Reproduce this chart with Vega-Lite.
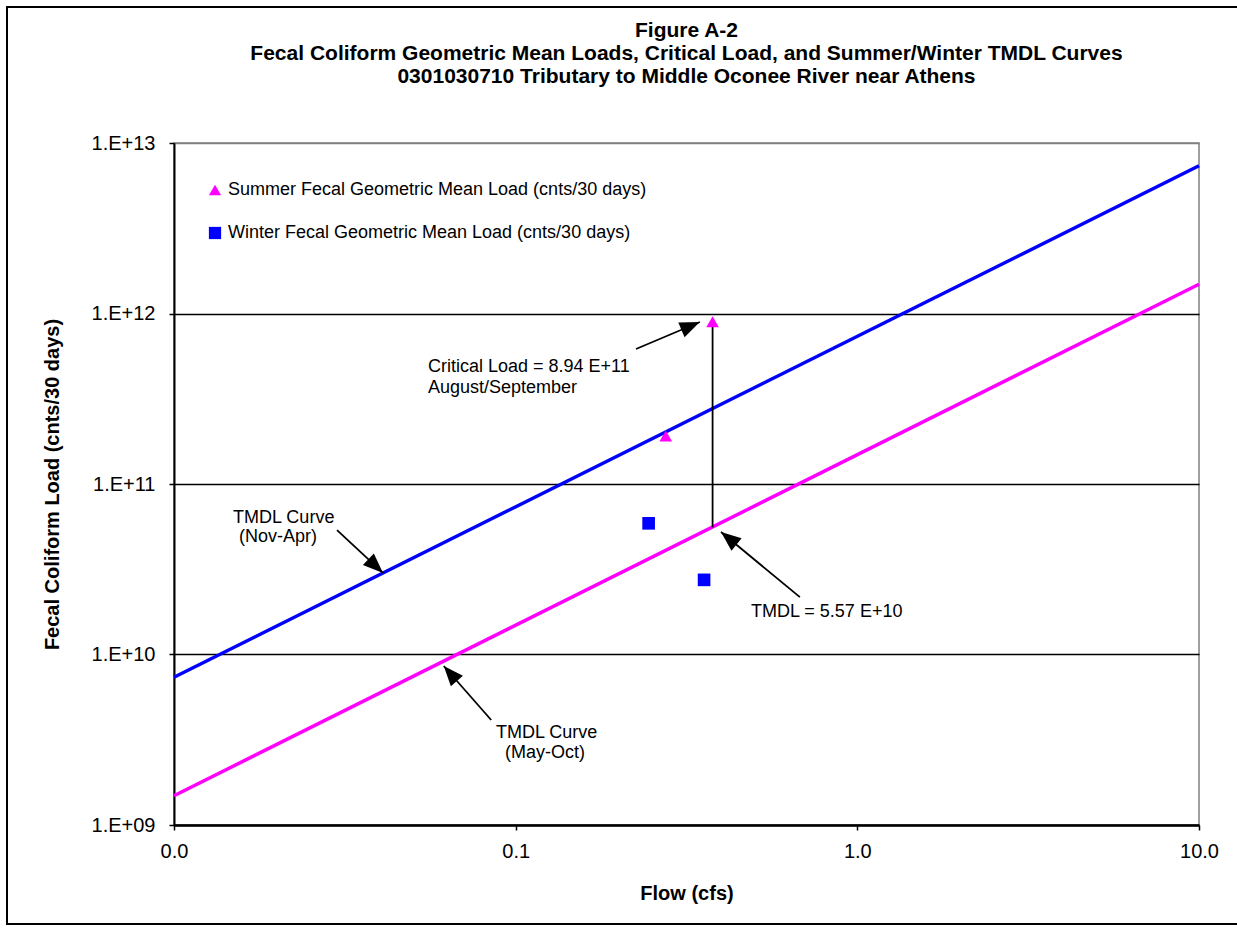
{
  "$schema": "https://vega.github.io/schema/vega-lite/v6.json",
  "width": 1025,
  "height": 682,
  "autosize": {"type": "none"},
  "padding": {"left": 174, "top": 143, "right": 38, "bottom": 105},
  "background": "white",
  "title": {
    "text": ["Figure A-2", "Fecal Coliform Geometric Mean Loads, Critical Load, and Summer/Winter TMDL Curves", "0301030710  Tributary to Middle Oconee River near Athens"],
    "anchor": "middle",
    "font": "Liberation Sans",
    "fontSize": 21,
    "fontWeight": "bold",
    "lineHeight": 23,
    "baseline": "top",
    "offset": -81,
    "color": "black"
  },
  "config": {
    "view": {"stroke": "#808080", "strokeWidth": 1.5},
    "font": "Liberation Sans",
    "axis": {"labelColor": "black", "titleColor": "black", "labelFont": "Liberation Sans", "titleFont": "Liberation Sans"}
  },
  "datasets": {
    "curves": [
      {"flow": 0.01, "load": 7.35e9, "curve": "Nov-Apr"},
      {"flow": 10, "load": 7.35e12, "curve": "Nov-Apr"},
      {"flow": 0.01, "load": 1.485e9, "curve": "May-Oct"},
      {"flow": 10, "load": 1.485e12, "curve": "May-Oct"}
    ],
    "points": [
      {"flow": 0.377, "load": 8.94e11, "series": "Summer Fecal Geometric Mean Load (cnts/30 days)"},
      {"flow": 0.275, "load": 1.91e11, "series": "Summer Fecal Geometric Mean Load (cnts/30 days)"},
      {"flow": 0.245, "load": 5.88e10, "series": "Winter Fecal Geometric Mean Load (cnts/30 days)"},
      {"flow": 0.356, "load": 2.74e10, "series": "Winter Fecal Geometric Mean Load (cnts/30 days)"}
    ],
    "critical": [
      {"flow": 0.377, "load": 8.94e11, "load2": 5.57e10}
    ],
    "arrows": [
      {"id": "critical", "flow": 0.225, "load": 6.19e11, "flow2": 0.346, "load2": 8.92e11},
      {"id": "novapr", "flow": 0.03, "load": 5.37e10, "flow2": 0.0409, "load2": 3.01e10},
      {"id": "mayoct", "flow": 0.0848, "load": 4.13e9, "flow2": 0.0616, "load2": 8.56e9},
      {"id": "tmdl", "flow": 0.679, "load": 2.17e10, "flow2": 0.399, "load2": 5.23e10}
    ],
    "notes": [
      {"flow": 0.05537, "load": 4.856e11, "text": "Critical Load = 8.94 E+11"},
      {"flow": 0.05537, "load": 3.656e11, "text": "August/September"},
      {"flow": 0.014887, "load": 6.318e10, "text": "TMDL Curve"},
      {"flow": 0.015496, "load": 4.889e10, "text": "(Nov-Apr)"},
      {"flow": 0.08758, "load": 3.464e9, "text": "TMDL Curve"},
      {"flow": 0.09306, "load": 2.644e9, "text": "(May-Oct)"},
      {"flow": 0.4884, "load": 1.7757e10, "text": "TMDL = 5.57 E+10"}
    ]
  },
  "layer": [
    {
      "data": {"name": "curves"},
      "transform": [{"filter": "datum.curve === 'Nov-Apr'"}],
      "mark": {"type": "line", "color": "#0000FF", "strokeWidth": 3.5},
      "encoding": {
        "x": {
          "field": "flow", "type": "quantitative",
          "scale": {"type": "log", "domain": [0.01, 10], "nice": false},
          "axis": {
            "values": [0.01, 0.1, 1, 10], "format": ".1f", "labelFlush": false,
            "labelFontSize": 20, "labelPadding": 11, "tickSize": 5, "tickColor": "black", "tickWidth": 1.5,
            "domainColor": "black", "domainWidth": 2.5, "grid": false,
            "title": "Flow  (cfs)", "titleFontSize": 20, "titleFontWeight": "bold",
            "titleY": 68, "titleBaseline": "middle"
          }
        },
        "y": {
          "field": "load", "type": "quantitative",
          "scale": {"type": "log", "domain": [1e9, 1e13], "nice": false},
          "axis": {
            "values": [1e9, 1e10, 1e11, 1e12, 1e13], "labelFlush": false,
            "labelExpr": "'1.E+' + (round(log(datum.value)/LN10) < 10 ? '0' : '') + round(log(datum.value)/LN10)",
            "labelFontSize": 20, "labelPadding": 14, "tickSize": 5, "tickColor": "black", "tickWidth": 1.5,
            "domainColor": "black", "domainWidth": 2,
            "grid": true, "gridWidth": 1.5,
            "gridColor": {"condition": {"test": "datum.value > 5e12", "value": "#808080"}, "value": "black"},
            "title": "Fecal Coliform Load (cnts/30 days)", "titleFontSize": 20, "titleFontWeight": "bold",
            "titleX": -122, "titleY": 341, "titleBaseline": "middle", "titleAngle": -90
          }
        }
      }
    },
    {
      "data": {"name": "curves"},
      "transform": [{"filter": "datum.curve === 'May-Oct'"}],
      "mark": {"type": "line", "color": "#FF00FF", "strokeWidth": 3.5},
      "encoding": {
        "x": {"field": "flow", "type": "quantitative"},
        "y": {"field": "load", "type": "quantitative"}
      }
    },
    {
      "data": {"name": "critical"},
      "mark": {"type": "rule", "color": "black", "strokeWidth": 1.8},
      "encoding": {
        "x": {"field": "flow", "type": "quantitative"},
        "y": {"field": "load", "type": "quantitative"},
        "y2": {"field": "load2"}
      }
    },
    {
      "data": {"name": "arrows"},
      "mark": {"type": "rule", "color": "black", "strokeWidth": 1.8},
      "encoding": {
        "x": {"field": "flow", "type": "quantitative"},
        "y": {"field": "load", "type": "quantitative"},
        "x2": {"field": "flow2"},
        "y2": {"field": "load2"}
      }
    },
    {
      "data": {"name": "arrows"},
      "transform": [{"filter": "datum.id === 'critical'"}],
      "mark": {"type": "point", "shape": "M0,0L-0.4,1L0.4,1Z", "size": 1600, "filled": true, "color": "black", "opacity": 1, "angle": 67},
      "encoding": {
        "x": {"field": "flow2", "type": "quantitative"},
        "y": {"field": "load2", "type": "quantitative"}
      }
    },
    {
      "data": {"name": "arrows"},
      "transform": [{"filter": "datum.id === 'novapr'"}],
      "mark": {"type": "point", "shape": "M0,0L-0.4,1L0.4,1Z", "size": 1600, "filled": true, "color": "black", "opacity": 1, "angle": 133},
      "encoding": {
        "x": {"field": "flow2", "type": "quantitative"},
        "y": {"field": "load2", "type": "quantitative"}
      }
    },
    {
      "data": {"name": "arrows"},
      "transform": [{"filter": "datum.id === 'mayoct'"}],
      "mark": {"type": "point", "shape": "M0,0L-0.4,1L0.4,1Z", "size": 1600, "filled": true, "color": "black", "opacity": 1, "angle": 319},
      "encoding": {
        "x": {"field": "flow2", "type": "quantitative"},
        "y": {"field": "load2", "type": "quantitative"}
      }
    },
    {
      "data": {"name": "arrows"},
      "transform": [{"filter": "datum.id === 'tmdl'"}],
      "mark": {"type": "point", "shape": "M0,0L-0.4,1L0.4,1Z", "size": 1600, "filled": true, "color": "black", "opacity": 1, "angle": 309},
      "encoding": {
        "x": {"field": "flow2", "type": "quantitative"},
        "y": {"field": "load2", "type": "quantitative"}
      }
    },
    {
      "data": {"name": "points"},
      "mark": {"type": "point", "filled": true, "size": 160, "opacity": 1},
      "encoding": {
        "x": {"field": "flow", "type": "quantitative"},
        "y": {"field": "load", "type": "quantitative"},
        "shape": {
          "field": "series", "type": "nominal",
          "scale": {"domain": ["Summer Fecal Geometric Mean Load (cnts/30 days)", "Winter Fecal Geometric Mean Load (cnts/30 days)"], "range": ["triangle-up", "square"]},
          "legend": {"orient": "none", "legendX": 32, "legendY": 38, "title": null, "labelFontSize": 18, "labelFont": "Liberation Sans", "labelColor": "black", "symbolSize": 150, "rowPadding": 25, "labelOffset": 4, "padding": 0, "symbolStrokeWidth": 0, "labelLimit": 600}
        },
        "color": {
          "field": "series", "type": "nominal",
          "scale": {"domain": ["Summer Fecal Geometric Mean Load (cnts/30 days)", "Winter Fecal Geometric Mean Load (cnts/30 days)"], "range": ["#FF00FF", "#0000FF"]},
          "legend": {"orient": "none", "legendX": 32, "legendY": 38, "title": null, "labelFontSize": 18, "labelFont": "Liberation Sans", "labelColor": "black", "symbolSize": 150, "rowPadding": 25, "labelOffset": 4, "padding": 0, "symbolStrokeWidth": 0, "labelLimit": 600}
        }
      }
    },
    {
      "data": {"name": "notes"},
      "mark": {"type": "text", "align": "left", "baseline": "middle", "fontSize": 18, "font": "Liberation Sans", "color": "black"},
      "encoding": {
        "x": {"field": "flow", "type": "quantitative"},
        "y": {"field": "load", "type": "quantitative"},
        "text": {"field": "text"}
      }
    },
    {
      "data": {"values": [{}]},
      "mark": {"type": "rect", "fillOpacity": 0, "stroke": "black", "strokeWidth": 2},
      "encoding": {
        "x": {"datum": 0.003245, "type": "quantitative"},
        "x2": {"datum": 13.63},
        "y": {"datum": 6.277e13, "type": "quantitative"},
        "y2": {"datum": 2.627e8}
      }
    }
  ]
}
